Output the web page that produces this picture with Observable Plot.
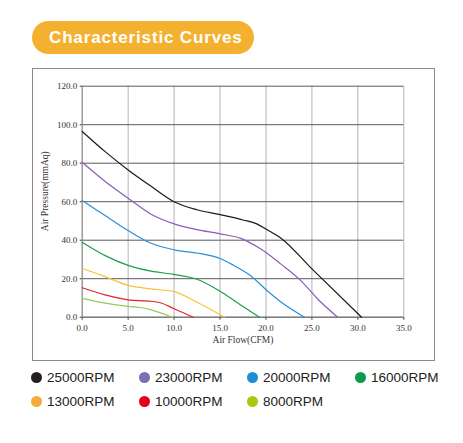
<!DOCTYPE html>
<html><head><meta charset="utf-8">
<script src="https://cdn.jsdelivr.net/npm/d3@7"></script>
<script src="https://cdn.jsdelivr.net/npm/@observablehq/plot@0.6"></script>
<style>
html,body{margin:0;padding:0;background:#fff;}
#wrap{position:relative;width:463px;height:443px;overflow:hidden;background:#fff;}
#title{position:absolute;left:32px;top:21px;width:222px;height:33px;border-radius:17px;background:#f4b12f;color:#fff;font:bold 17px "Liberation Sans",Arial,sans-serif;letter-spacing:0.85px;line-height:33px;padding-left:17px;box-sizing:border-box;}
#box{position:absolute;left:32px;top:68px;width:403px;height:293px;border:1px solid #8a8a8a;box-sizing:border-box;}
#chart{position:absolute;left:0;top:70px;}
.leg{position:absolute;font:13.5px "Liberation Sans",Arial,sans-serif;color:#222;white-space:nowrap;line-height:16px;}
.leg i{position:absolute;left:-16px;top:2px;width:11px;height:11px;border-radius:50%;}
</style></head>
<body><div id="wrap"><div id="title">Characteristic Curves</div><div id="box"></div><div id="chart"></div></div>
<script>
const rpmLabels = ["25000RPM","23000RPM","20000RPM","16000RPM","13000RPM","10000RPM","8000RPM"];
const lineColors = ["#1a1a1a","#8a5cb8","#2a8fd8","#1e9e4e","#f7c236","#e0242a","#98c95c"];
const legendColors = ["#231f20","#7b6fb5","#1a8fd8","#0b9b4a","#f5ab3c","#e3001b","#a8c814"];

const flow25000 = [0,2.5,5,7.5,10,12.5,15,17.5,19,20,21.6,25,30.4];
const pres25000 = [96.5,86,76.5,68,60,55.8,53.3,50.5,48.5,45.8,41.2,25.1,0];
const flow23000 = [0,2.5,5,7.5,10,12.5,15,17.4,19.4,21.6,23.8,25.6,27.8];
const pres23000 = [80.5,70.5,61.8,53.5,48.5,45.5,43.3,40.7,35.5,27.7,19,9.6,0];
const flow20000 = [0,2.5,5,7.5,10,12.9,15,16.5,18.3,20.1,21.9,24.2];
const pres20000 = [60.6,52.8,45,38.4,35,33,30.5,26.9,21.7,13.9,7,0];
const flow16000 = [0,2.5,5,7.5,10,12.5,15,17.2,19.3];
const pres16000 = [39,32,26.9,23.9,22.2,19.7,13.5,6.5,0];
const flow13000 = [0,2.5,5,7.5,10,12.5,15.5];
const pres13000 = [25.3,21.1,16.5,14.7,13.3,7.8,0];
const flow10000 = [0,2.5,5,7.5,8.5,10,12.1];
const pres10000 = [15.3,11.6,9,8.3,7.5,4.4,0];
const flow8000 = [0,2.5,5,6.5,7.5,9.8];
const pres8000 = [9.8,7.3,5.6,4.9,3.8,0];

const xTicks = [0,5,10,15,20,25,30,35];
const yTicks = [0,20,40,60,80,100,120];

const flows = [flow25000,flow23000,flow20000,flow16000,flow13000,flow10000,flow8000];
const press = [pres25000,pres23000,pres20000,pres16000,pres13000,pres10000,pres8000];
const rows = [];
rpmLabels.forEach((s,i)=>flows[i].forEach((f,j)=>rows.push({series:s,flow:f,pressure:press[i][j]})));

const serif = "'Liberation Serif','DejaVu Serif',serif";
const chart = Plot.plot({
  width: 463, height: 285,
  marginLeft: 81.7, marginRight: 59.7, marginTop: 15.7, marginBottom: 38.3,
  style: {fontFamily: serif, fontSize: "9px", color: "#333", background: "transparent"},
  x: {domain: [0,35], ticks: xTicks, tickFormat: d=>d.toFixed(1), label: null, tickSize: 3, tickPadding: 4},
  y: {domain: [0,120], ticks: yTicks, tickFormat: d=>d.toFixed(1), label: null, tickSize: 2, tickPadding: 3},
  color: {domain: rpmLabels, range: lineColors},
  marks: [
    Plot.gridX(xTicks, {stroke: "#b4b4b4", strokeOpacity: 1, strokeWidth: 1}),
    Plot.gridY(yTicks, {stroke: "#5a5a5a", strokeOpacity: 1, strokeWidth: 1}),
    Plot.ruleX([0], {stroke: "#888"}),
    Plot.ruleY([0], {stroke: "#777"}),
    Plot.line(rows, {x: "flow", y: "pressure", z: "series", stroke: "series", strokeWidth: 1.2, curve: "monotone-x"}),
    Plot.text(["Air Flow(CFM)"], {frameAnchor: "bottom", dy: 25.5, fontFamily: serif, fontSize: 9.5, fill: "#333"}),
    Plot.text(["Air Pressure(mmAq)"], {frameAnchor: "left", textAnchor: "middle", rotate: -90, dx: -37, dy: -10.5, fontFamily: serif, fontSize: 9.5, fill: "#333"})
  ]
});
document.getElementById("chart").appendChild(chart);

const wrap = document.getElementById("wrap");
const colX = [47,155,263,371];
rpmLabels.forEach((s,i)=>{
  const d = document.createElement("div");
  d.className = "leg";
  d.style.left = colX[i%4] + "px";
  d.style.top = (i<4 ? 369.5 : 393.5) + "px";
  d.innerHTML = `<i style="background:${legendColors[i]}"></i>${s}`;
  wrap.appendChild(d);
});
</script></body></html>
